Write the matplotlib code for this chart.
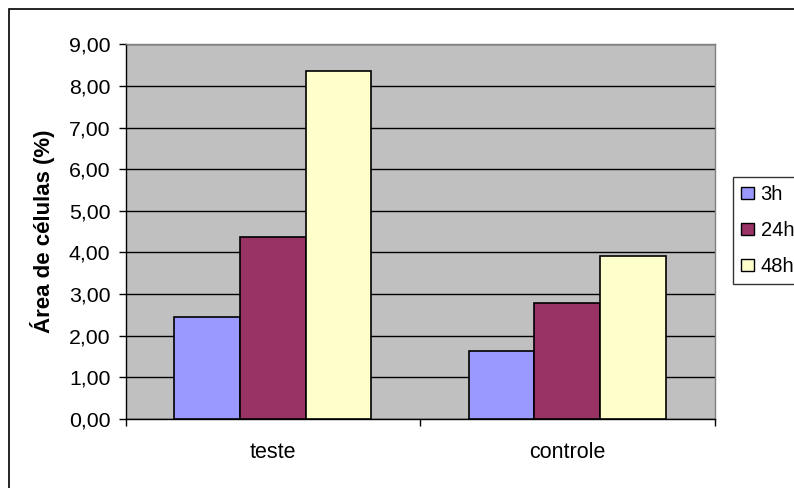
import numpy as np
import matplotlib
matplotlib.use('Agg')
import matplotlib.pyplot as plt
from matplotlib.patches import Rectangle

plt.rcParams['font.family'] = ['Liberation Sans', 'DejaVu Sans']

# Data
categories = ['teste', 'controle']
series_names = ['3h', '24h', '48h']
values_3h = [2.45, 1.63]
values_24h = [4.37, 2.79]
values_48h = [8.37, 3.91]
y_ticks = np.arange(0, 10, 1)
y_tick_labels = [f"{v:.2f}".replace('.', ',') for v in y_ticks]

colors = ['#9999FF', '#993366', '#FFFFCC']

fig = plt.figure(figsize=(7.94, 4.88), dpi=100)
ax = fig.add_axes([0.1582, 0.142, 0.7417, 0.7672])
ax.set_facecolor('#C0C0C0')

# Outer chart border (right/bottom edges run off the image)
fig.add_artist(Rectangle((8.5 / 794, -0.5), 2, 1.5 - 8.5 / 488, transform=fig.transFigure,
                         fill=False, edgecolor='black', linewidth=1.2))

x = np.arange(len(categories)) + 0.5
bar_w = 0.223
for i, (name, vals) in enumerate(zip(series_names, [values_3h, values_24h, values_48h])):
    ax.bar(x + (i - 1) * bar_w, vals, bar_w, color=colors[i], edgecolor='black',
           linewidth=1.2, label=name, zorder=3)

ax.set_xlim(0, 2)
ax.set_ylim(0, 9)
ax.set_yticks(y_ticks)
ax.set_yticklabels(y_tick_labels, fontsize=15.3)
ax.yaxis.grid(True, color='black', linewidth=1.0, zorder=1)
ax.set_axisbelow(True)
ax.tick_params(axis='y', direction='out', length=5, width=1, pad=6)

ax.set_xticks(x)
ax.set_xticklabels(categories, fontsize=15.5)
ax.set_xticks([0, 1, 2], minor=True)
ax.tick_params(axis='x', which='major', length=0, pad=17)
ax.tick_params(axis='x', which='minor', direction='out', length=5, width=1)

for s in ['left', 'bottom']:
    ax.spines[s].set_color('black')
    ax.spines[s].set_linewidth(1.0)
for s in ['top', 'right']:
    ax.spines[s].set_color('#808080')
    ax.spines[s].set_linewidth(1.0)

ax.set_ylabel('Área de células (%)', fontsize=16, fontweight='bold')
ax.yaxis.set_label_coords(-0.12, 0.5)

leg = ax.legend(loc='upper left', bbox_to_anchor=(732.5 / 794, 1 - 176.5 / 488),
                bbox_transform=fig.transFigure, fontsize=14.5, frameon=True,
                fancybox=False, edgecolor='black', handlelength=0.65, handleheight=0.55,
                handletextpad=0.33, labelspacing=0.84, borderpad=0.42, borderaxespad=0)
leg.get_frame().set_linewidth(1.0)
for h in leg.legend_handles:
    h.set_linewidth(1.0)

fig.savefig('out.png', dpi=100)
